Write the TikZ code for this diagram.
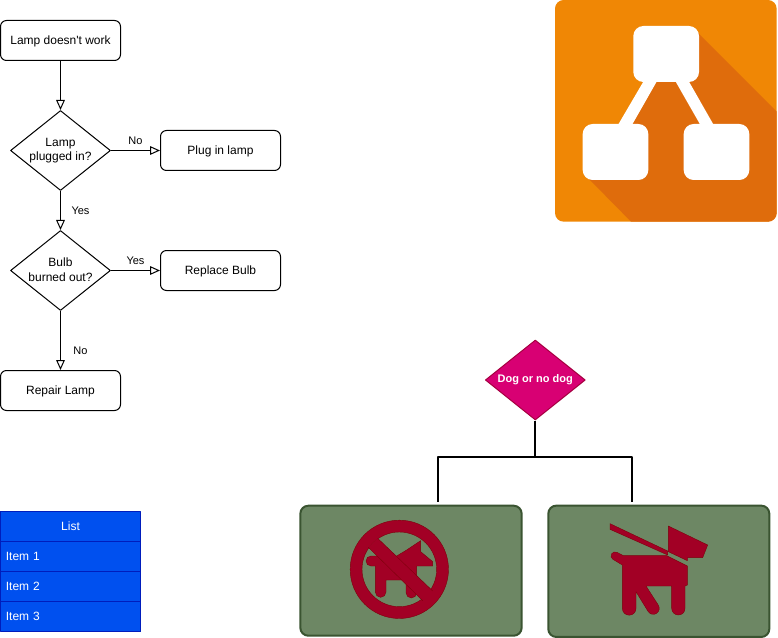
\documentclass[tikz,border=0pt]{standalone}
\usepackage{fontspec}
\setmainfont{Liberation Sans}
\usetikzlibrary{arrows.meta,shapes.geometric}
\definecolor{iconorange}{HTML}{F08705}
\definecolor{iconshadow}{HTML}{DF6C0C}
\definecolor{listfill}{HTML}{0050EF}
\definecolor{listline}{HTML}{001DBC}
\definecolor{dogpink}{HTML}{D80073}
\definecolor{dogpinkline}{HTML}{A50040}
\definecolor{cardfill}{HTML}{6D8764}
\definecolor{cardline}{HTML}{3A5431}
\definecolor{dogred}{HTML}{A20025}
\definecolor{dogline}{HTML}{6F0000}
\tikzset{
	process/.style={draw,rounded corners=4.5pt,minimum width=90pt,minimum height=30pt,inner sep=0pt,line width=.75pt,text height=8pt,text depth=1.9pt,font=\fontsize{9}{10.5}\selectfont},
	decision/.style={draw,diamond,aspect=1.25,minimum width=75pt,minimum height=60pt,inner sep=0pt,line width=.75pt,align=center,font=\fontsize{9}{11}\selectfont},
	flowarrow/.style={line width=.75pt,-{Triangle[open,length=7.5pt,width=6.5pt]}},
	flowlabel/.style={inner sep=0pt,font=\fontsize{8.25}{10}\selectfont},
	listrow/.style={draw=listline,fill=listfill,text=white,minimum width=105pt,minimum height=22.5pt,inner sep=0pt,line width=.75pt,font=\fontsize{9}{10.5}\selectfont},
	listitem/.style={listrow,text width=97pt,align=left},
	card/.style={draw=cardline,fill=cardfill,rounded corners=6pt,line width=1.5pt,inner sep=0pt},
	dogshape/.style={draw=dogline!70!dogred,fill=dogred,line width=.3pt,line join=round},
}
\begin{document}
\begin{tikzpicture}[x=.75pt,y=-.75pt,line join=round]
	\useasboundingbox (0,0) rectangle (778,638);
	
	% flowchart
	\node[process] (lamp) at (60.5,40.5) {Lamp doesn\textquotesingle t work};
	\node[decision] (plugged) at (60.5,150.5) {\raisebox{1pt}{Lamp}\\\raisebox{1pt}{plugged in?}};
	\node[process] (plug) at (220.5,150.5) {Plug in lamp};
	\node[decision] (bulb) at (60.5,270.5) {\raisebox{1pt}{Bulb}\\\raisebox{1pt}{burned out?}};
	\node[process] (replace) at (220.5,270.5) {Replace Bulb};
	\node[process] (repair) at (60.5,390.5) {Repair Lamp};
	\draw[flowarrow] (lamp) -- (plugged);
	\draw[flowarrow] (plugged) -- (plug);
	\draw[flowarrow] (plugged) -- (bulb);
	\draw[flowarrow] (bulb) -- (replace);
	\draw[flowarrow] (bulb) -- (repair);
	\node[flowlabel] (labelno) at (135.5,140.5) {No};
	\node[flowlabel] (labelyes) at (80.5,210.5) {Yes};
	\node[flowlabel] (labelyesb) at (135.5,260.5) {Yes};
	\node[flowlabel] (labelnob) at (80.5,350.5) {No};
	
	% list
	\node[listrow] (listhead) at (70.5,526.5) {List};
	\node[listitem] (itema) at (70.5,556.5) {Item 1};
	\node[listitem] (itemb) at (70.5,586.5) {Item 2};
	\node[listitem] (itemc) at (70.5,616.5) {Item 3};
	
	% orange icon
	\begin{scope}[shift={(545,0)},x=.25pt,y=-.25pt]
		\fill[iconorange,rounded corners=6.5pt] (30,0) rectangle (695,665);
		\begin{scope}
			\clip[rounded corners=6.5pt] (30,0) rectangle (695,665);
			\fill[iconshadow] (455,95) -- (700,340) -- (700,670) -- (263,670) -- (130,535) -- (240,450) -- (241,372) -- (315,246) -- (320,200) -- cycle;
		\end{scope}
		\fill[white] (295,245) -- (335,245) -- (262,373) -- (220,373) -- cycle;
		\fill[white] (392,245) -- (432,245) -- (505,373) -- (465,373) -- cycle;
		\fill[white,rounded corners=7.5pt] (265,78) rectangle (462,246);
		\fill[white,rounded corners=7.5pt] (113,372) rectangle (310,540);
		\fill[white,rounded corners=7.5pt] (416,372) rectangle (613,540);
	\end{scope}
	
	% dog decision
	\node[draw=dogpinkline,fill=dogpink,diamond,aspect=1.25,minimum width=75pt,minimum height=60pt,inner sep=0pt,line width=.75pt,text=white,font=\fontsize{8.25}{10}\selectfont\bfseries] (dog) at (535.3,380) {\raisebox{1.5pt}{Dog or no dog}};
	\node[card,minimum width=166pt,minimum height=97.5pt] (nodog) at (411,570.7) {};
	\node[card,minimum width=165.75pt,minimum height=98.5pt] (yesdog) at (658.8,571.3) {};
	\coordinate (nodogend) at (438.2,502);
	\coordinate (yesdogend) at (632.3,502);
	\draw[line width=1.5pt] (dog.south) |- (nodogend |- 0,457) -- (nodogend);
	\draw[line width=1.5pt] (dog.south) |- (yesdogend |- 0,457) -- (yesdogend);
	
	% no dog sign
	\begin{scope}[shift={(290,490)},x=.25pt,y=-.25pt]
		\draw[dogshape] (243,198) -- (320,198) -- (350,180) -- (392,152) -- (392,185) -- (428,215) -- (428,228) -- (380,228) -- (380,308) arc[start angle=0,end angle=180,radius=16] -- (348,270) -- (288,270) -- (288,306) arc[start angle=0,end angle=180,radius=16] -- (256,228) -- (243,228) arc[start angle=90,end angle=270,radius=15] -- cycle;
		\draw[dogshape,even odd rule] (328,238) circle[radius=147.5] (328,238) circle[radius=112];
		\fill[dogred] (235,172) -- (263,145) -- (428,303) -- (398,332) -- cycle;
		\draw[dogshape] (235,172) -- (398,332) (263,145) -- (428,303);
	\end{scope}
	
	% dog on leash
	\begin{scope}[shift={(540,490)},x=.25pt,y=-.25pt]
		\draw[dogshape] (210,101) -- (383,183) -- (383,195) -- (210,118) -- cycle;
		\draw[dogshape] (385,108) -- (503,165) -- (488,203) -- (442,203) -- (442,212) -- (385,185) -- cycle;
		\draw[dogshape] (231,187) -- (250,197) -- (380,197) -- (442,228) -- (442,285) -- (435,288) -- (435,355) arc[start angle=0,end angle=180,radius=20] -- (395,288) -- (318,288) -- (355,345.5) arc[start angle=-32,end angle=148,radius=18] -- (288,305) -- (288,355) arc[start angle=0,end angle=180,radius=20.5] -- (247,225) -- (219,208) arc[start angle=120,end angle=300,radius=12] -- cycle;
	\end{scope}
\end{tikzpicture}
\end{document}
